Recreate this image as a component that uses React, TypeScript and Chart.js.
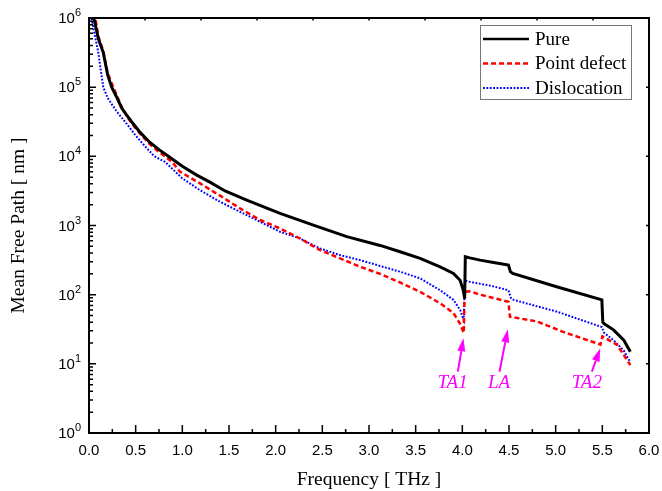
import React, { useEffect, useRef } from 'react';
import { Chart, registerables } from 'chart.js';

Chart.register(...registerables);

// ---- Data (frequency in THz, mean free path in nm) ----
const pureFreq = [0.03, 0.06, 0.1, 0.153, 0.2, 0.243, 0.3, 0.35, 0.4, 0.457, 0.55, 0.65, 0.75, 0.85, 1.0, 1.15, 1.3, 1.458, 1.69, 2.047, 2.404, 2.762, 3.119, 3.333, 3.548, 3.762, 3.905, 3.976, 4.01, 4.025, 4.032, 4.08, 4.19, 4.35, 4.494, 4.515, 4.54, 5.01, 5.495, 5.505, 5.52, 5.62, 5.73, 5.8];
const pureMfp = [1.2e6, 9.0e5, 5.0e5, 3.16e5, 1.5e5, 1.0e5, 7.0e4, 5.0e4, 4.0e4, 3.16e4, 2.2e4, 1.6e4, 1.25e4, 1.0e4, 7.2e3, 5.4e3, 4.2e3, 3.16e3, 2.33e3, 1.5e3, 1.01e3, 690, 515, 417, 335, 253, 203, 162, 116, 88, 353, 340, 316, 290, 268, 215, 203, 130, 84, 40, 38, 31, 22, 15];

const pointFreq = [0.05, 0.07, 0.1, 0.153, 0.2, 0.26, 0.3, 0.35, 0.4, 0.457, 0.55, 0.65, 0.75, 0.815, 0.9, 0.975, 1.19, 1.404, 1.618, 1.833, 2.047, 2.26, 2.476, 2.69, 2.905, 3.119, 3.333, 3.548, 3.762, 3.905, 3.976, 4.015, 4.025, 4.08, 4.19, 4.3, 4.4, 4.494, 4.51, 4.8, 5.08, 5.48, 5.5, 5.655, 5.73, 5.8];
const pointMfp = [1.2e6, 9.5e5, 5.5e5, 3.3e5, 1.6e5, 1.0e5, 7.5e4, 5.2e4, 3.9e4, 3.0e4, 2.1e4, 1.5e4, 1.15e4, 1.0e4, 8.0e3, 6.0e3, 4.06e3, 2.7e3, 1.77e3, 1.2e3, 908, 650, 441, 335, 253, 200, 150, 110, 75, 54, 38, 28, 110, 112, 100, 92, 85, 79, 48, 41, 29, 19, 25, 19, 13.4, 9.6];

const dislocFreq = [0.02, 0.04, 0.07, 0.1, 0.125, 0.153, 0.2, 0.25, 0.3, 0.4, 0.5, 0.6, 0.7, 0.815, 1.0, 1.19, 1.404, 1.618, 1.833, 2.047, 2.26, 2.476, 2.69, 2.905, 3.119, 3.333, 3.548, 3.762, 3.905, 3.976, 4.015, 4.028, 4.08, 4.3, 4.494, 4.52, 4.55, 5.01, 5.495, 5.52, 5.62, 5.73, 5.8];
const dislocMfp = [1.1e6, 8.0e5, 5.0e5, 3.16e5, 1.8e5, 1.0e5, 7.0e4, 5.5e4, 4.4e4, 3.0e4, 2.0e4, 1.4e4, 1.0e4, 8.3e3, 4.8e3, 3.24e3, 2.2e3, 1.58e3, 1.13e3, 812, 650, 465, 373, 316, 260, 215, 172, 116, 84, 60, 43, 160, 153, 135, 116, 90, 84, 57, 34, 28, 22, 15.5, 10.5];

const seriesNames = ['Pure', 'Point defect', 'Dislocation'];

const xMajorTicks = [0, 0.5, 1, 1.5, 2, 2.5, 3, 3.5, 4, 4.5, 5, 5.5, 6];
const xMajorLabels = ['0.0', '0.5', '1.0', '1.5', '2.0', '2.5', '3.0', '3.5', '4.0', '4.5', '5.0', '5.5', '6.0'];
const xMinorTicks = [0.25, 0.75, 1.25, 1.75, 2.25, 2.75, 3.25, 3.75, 4.25, 4.75, 5.25, 5.75];
const xTopTicks = [0.6, 1.2, 1.8, 2.4, 3.0, 3.6, 4.2, 4.8, 5.4];
const yExponents = [0, 1, 2, 3, 4, 5, 6];
const ySuperscripts = ['0', '1', '2', '3', '4', '5', '6'];

const annotationLabels = ['TA1', 'LA', 'TA2'];
const annotationTipFreq = [4.012, 4.487, 5.477];
const annotationTipMfp = [23.4, 31.5, 16.7];
const annotationBaseFreq = [3.952, 4.398, 5.388];
const annotationBaseMfp = [7.7, 7.7, 7.7];
const annotationTextFreq = [3.895, 4.393, 5.334];
const annotationTextMfp = [5.2, 5.2, 5.2];

const toPoints = (xs: number[], ys: number[]) => xs.map((x, i) => ({ x, y: ys[i] }));

const SERIF = '"Liberation Serif", "Times New Roman", serif';
const SANS = '"Liberation Sans", Arial, sans-serif';
const MAGENTA = '#FF00FF';

const decorPlugin = {
  id: 'decor',
  afterDraw(chart: any) {
    const { ctx, chartArea: ca, scales } = chart;
    const xs = scales.x;
    const ys = scales.y;
    ctx.save();

    // frame
    ctx.strokeStyle = '#000';
    ctx.lineWidth = 2;
    ctx.strokeRect(ca.left, ca.top, ca.right - ca.left, ca.bottom - ca.top);

    ctx.lineWidth = 1.5;
    ctx.beginPath();
    xMajorTicks.forEach((v) => {
      const px = xs.getPixelForValue(v);
      ctx.moveTo(px, ca.bottom);
      ctx.lineTo(px, ca.bottom - 8);
    });
    xMinorTicks.forEach((v) => {
      const px = xs.getPixelForValue(v);
      ctx.moveTo(px, ca.bottom);
      ctx.lineTo(px, ca.bottom - 4);
    });
    xTopTicks.forEach((v) => {
      const px = xs.getPixelForValue(v);
      ctx.moveTo(px, ca.top);
      ctx.lineTo(px, ca.top + 2.5);
    });
    yExponents.forEach((e) => {
      const py = ys.getPixelForValue(Math.pow(10, e));
      ctx.moveTo(ca.left, py);
      ctx.lineTo(ca.left + 7, py);
      ctx.moveTo(ca.right, py);
      ctx.lineTo(ca.right - 3, py);
      if (e < 6) {
        for (let m = 2; m <= 9; m++) {
          const pm = ys.getPixelForValue(m * Math.pow(10, e));
          ctx.moveTo(ca.left, pm);
          ctx.lineTo(ca.left + 4, pm);
        }
      }
    });
    ctx.stroke();

    // x tick labels
    ctx.fillStyle = '#000';
    ctx.font = '15px ' + SANS;
    ctx.textAlign = 'center';
    ctx.textBaseline = 'middle';
    xMajorTicks.forEach((v, i) => {
      ctx.fillText(xMajorLabels[i], xs.getPixelForValue(v), ca.bottom + 18);
    });

    // y tick labels 10^n
    yExponents.forEach((e, i) => {
      const py = ys.getPixelForValue(Math.pow(10, e));
      ctx.font = '15px ' + SANS;
      const w10 = ctx.measureText('10').width;
      ctx.font = '11px ' + SANS;
      const ws = ctx.measureText(ySuperscripts[i]).width;
      const right = ca.left - 8;
      const x0 = right - ws - w10;
      ctx.textAlign = 'left';
      ctx.textBaseline = 'middle';
      ctx.font = '15px ' + SANS;
      ctx.fillText('10', x0, py + 1);
      ctx.font = '11px ' + SANS;
      ctx.fillText(ySuperscripts[i], x0 + w10, py - 5);
    });

    // axis titles
    ctx.font = '19.5px ' + SERIF;
    ctx.textAlign = 'center';
    ctx.textBaseline = 'middle';
    ctx.fillText('Frequency [ THz ]', (ca.left + ca.right) / 2, ca.bottom + 47);
    ctx.save();
    ctx.translate(19, (ca.top + ca.bottom) / 2);
    ctx.rotate(-Math.PI / 2);
    ctx.fillText('Mean Free Path [ nm ]', 0, 0);
    ctx.restore();

    // legend
    const bx = ca.right - 169;
    const by = ca.top + 7;
    const bw = 151;
    const bh = 74;
    ctx.fillStyle = '#fff';
    ctx.fillRect(bx, by, bw, bh);
    ctx.strokeStyle = '#777';
    ctx.lineWidth = 1;
    ctx.strokeRect(bx + 0.5, by + 0.5, bw, bh);
    const rowY = [by + 14, by + 38.5, by + 63];
    chart.data.datasets.forEach((ds: any, i: number) => {
      ctx.save();
      ctx.strokeStyle = ds.borderColor;
      ctx.lineWidth = Math.min(ds.borderWidth, 2.5);
      ctx.setLineDash(ds.borderDash || []);
      ctx.beginPath();
      ctx.moveTo(bx + 3, rowY[i]);
      ctx.lineTo(bx + 49, rowY[i]);
      ctx.stroke();
      ctx.restore();
      ctx.fillStyle = '#000';
      ctx.font = '19px ' + SERIF;
      ctx.textAlign = 'left';
      ctx.textBaseline = 'middle';
      ctx.fillText(ds.label, bx + 55, rowY[i] + 1);
    });

    // annotations
    ctx.strokeStyle = MAGENTA;
    ctx.fillStyle = MAGENTA;
    annotationLabels.forEach((lab, i) => {
      const tx = xs.getPixelForValue(annotationTipFreq[i]);
      const ty = ys.getPixelForValue(annotationTipMfp[i]);
      const sx = xs.getPixelForValue(annotationBaseFreq[i]);
      const sy = ys.getPixelForValue(annotationBaseMfp[i]);
      const ang = Math.atan2(ty - sy, tx - sx);
      const hl = 13;
      const hw = 4;
      const hx = tx - hl * Math.cos(ang);
      const hy = ty - hl * Math.sin(ang);
      ctx.lineWidth = 2;
      ctx.beginPath();
      ctx.moveTo(sx, sy);
      ctx.lineTo(hx, hy);
      ctx.stroke();
      ctx.beginPath();
      ctx.moveTo(tx, ty);
      ctx.lineTo(hx + hw * Math.sin(ang), hy - hw * Math.cos(ang));
      ctx.lineTo(hx - hw * Math.sin(ang), hy + hw * Math.cos(ang));
      ctx.closePath();
      ctx.fill();
      ctx.font = 'italic 19px ' + SERIF;
      ctx.textAlign = 'center';
      ctx.textBaseline = 'middle';
      ctx.fillText(lab, xs.getPixelForValue(annotationTextFreq[i]), ys.getPixelForValue(annotationTextMfp[i]));
    });

    ctx.restore();
  },
};

export default function App() {
  const canvasRef = useRef<HTMLCanvasElement | null>(null);

  useEffect(() => {
    if (!canvasRef.current) return;
    const chart = new Chart(canvasRef.current, {
      type: 'line',
      data: {
        datasets: [
          {
            label: seriesNames[0],
            data: toPoints(pureFreq, pureMfp),
            borderColor: '#000000',
            borderWidth: 3,
            borderDash: [],
            pointRadius: 0,
            fill: false,
            tension: 0,
          },
          {
            label: seriesNames[1],
            data: toPoints(pointFreq, pointMfp),
            borderColor: '#FF0000',
            borderWidth: 2.5,
            borderDash: [5, 3],
            pointRadius: 0,
            fill: false,
            tension: 0,
          },
          {
            label: seriesNames[2],
            data: toPoints(dislocFreq, dislocMfp),
            borderColor: '#0000FF',
            borderWidth: 2,
            borderDash: [1.8, 1.6],
            pointRadius: 0,
            fill: false,
            tension: 0,
          },
        ],
      } as any,
      options: {
        responsive: false,
        animation: false,
        devicePixelRatio: 1,
        layout: { padding: { left: 0, top: 18, right: 13, bottom: 0 } },
        plugins: { legend: { display: false }, tooltip: { enabled: false } },
        scales: {
          x: {
            type: 'linear',
            min: 0,
            max: 6,
            ticks: { display: false },
            grid: { display: false, drawTicks: false },
            border: { display: false },
            afterFit: (s: any) => {
              s.height = 58;
            },
          },
          y: {
            type: 'logarithmic',
            min: 1,
            max: 1e6,
            ticks: { display: false },
            grid: { display: false, drawTicks: false },
            border: { display: false },
            afterFit: (s: any) => {
              s.width = 89;
            },
          },
        },
      } as any,
      plugins: [decorPlugin],
    });
    return () => chart.destroy();
  }, []);

  return (
    <div style={{ position: 'absolute', left: 0, top: 0, width: 662, height: 491, background: '#fff' }}>
      <canvas ref={canvasRef} width={662} height={491} style={{ display: 'block' }} />
    </div>
  );
}
